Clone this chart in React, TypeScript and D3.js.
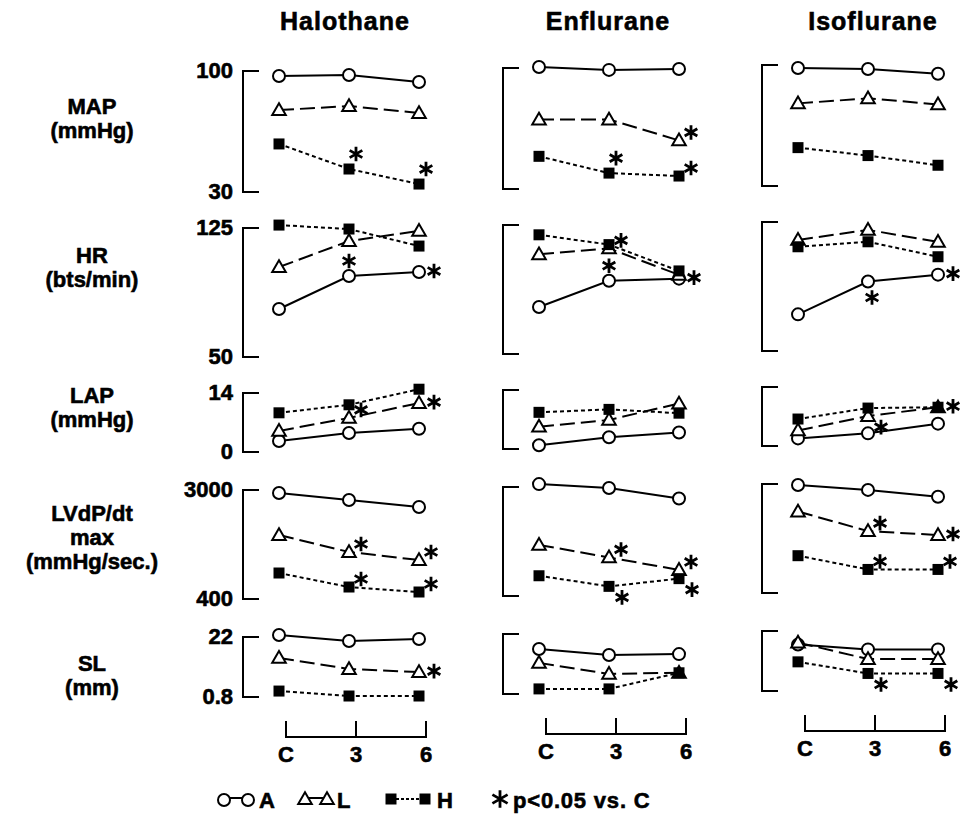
import React from "react";
import * as d3 from "d3";

// ---------- data ----------
const anesthetics = ["Halothane", "Enflurane", "Isoflurane"];
const times = ["C", "3", "6"];
const seriesNames = ["A", "L", "H"];
const variables = ["MAP", "HR", "LAP", "LVdP", "SL"];
const rowLabels = [
  ["MAP", "(mmHg)"],
  ["HR", "(bts/min)"],
  ["LAP", "(mmHg)"],
  ["LVdP/dt", "max", "(mmHg/sec.)"],
  ["SL", "(mm)"],
];
const rowMin = [30, 50, 0, 400, 0.8];
const rowMax = [100, 125, 14, 3000, 22];
const rowMinLabel = ["30", "50", "0", "400", "0.8"];
const rowMaxLabel = ["100", "125", "14", "3000", "22"];

// values: [Halothane, Enflurane, Isoflurane] x [C, 3, 6]
const mapA = [[97.1, 97.7, 93.6], [100.6, 98.9, 99.4], [98.3, 97.7, 94.9]];
const mapL = [[77.4, 79.7, 75.7], [70.2, 70.2, 58.1], [77.8, 80.7, 77.2]];
const mapH = [[57.8, 43.3, 34.6], [48.9, 39.2, 37.5], [52.2, 47.6, 42.0]];

const hrA = [[77.9, 97.1, 99.4], [77.3, 92.6, 93.8], [71.3, 90.4, 94.4]];
const hrL = [[102.3, 117.4, 123.3], [108, 111.4, 96], [114.6, 120.4, 113.5]];
const hrH = [[126.7, 124.4, 114.5], [119.3, 113.6, 98.3], [110.6, 113.5, 104.8]];

const lapA = [[2.6, 4.5, 5.5], [0.9, 2.8, 3.9], [1.8, 3.0, 5.3]];
const lapL = [[5.0, 8.1, 11.6], [5.3, 6.9, 10.8], [3.7, 7.1, 9.2]];
const lapH = [[9.3, 11.2, 14.9], [8.7, 9.4, 8.5], [6.4, 9.0, 9.2]];

const lvA = [[2928, 2761, 2594], [3069, 2977, 2724], [2977, 2859, 2696]];
const lvL = [[1927, 1521, 1330], [1619, 1320, 1021], [2344, 1876, 1782]];
const lvH = [[1020, 686, 567], [883, 630, 814], [1290, 962, 962]];

const slA = [[22.7, 20.6, 21.3], [16.7, 14.6, 14.9], [17.2, 15.5, 15.5]];
const slL = [[14.6, 10.7, 9.6], [11.8, 7.9, 8.3], [17.9, 12.1, 12.1]];
const slH = [[2.9, 1.15, 1.15], [2.6, 2.6, 8.3], [11.1, 7.0, 7.0]];

const rowData = [
  [mapA, mapL, mapH],
  [hrA, hrL, hrH],
  [lapA, lapL, lapH],
  [lvA, lvL, lvH],
  [slA, slL, slH],
];

// significant vs C: [anesthetic, variable, series, time index, asterisk placement]
const significant: [string, string, string, number, string][] = [
  ["Halothane", "MAP", "H", 1, "ru"],
  ["Halothane", "MAP", "H", 2, "ru"],
  ["Halothane", "HR", "A", 1, "u"],
  ["Halothane", "HR", "A", 2, "r"],
  ["Halothane", "LAP", "L", 1, "ur"],
  ["Halothane", "LAP", "L", 2, "r"],
  ["Halothane", "LVdP", "L", 1, "ur"],
  ["Halothane", "LVdP", "L", 2, "ur"],
  ["Halothane", "LVdP", "H", 1, "ur"],
  ["Halothane", "LVdP", "H", 2, "ur"],
  ["Halothane", "SL", "L", 2, "r"],
  ["Enflurane", "MAP", "L", 2, "ur"],
  ["Enflurane", "MAP", "H", 1, "ru"],
  ["Enflurane", "MAP", "H", 2, "ur"],
  ["Enflurane", "HR", "L", 1, "ur"],
  ["Enflurane", "HR", "A", 1, "u"],
  ["Enflurane", "HR", "A", 2, "r"],
  ["Enflurane", "LVdP", "L", 1, "ur"],
  ["Enflurane", "LVdP", "L", 2, "ur"],
  ["Enflurane", "LVdP", "H", 1, "dr"],
  ["Enflurane", "LVdP", "H", 2, "dr"],
  ["Isoflurane", "HR", "A", 1, "d"],
  ["Isoflurane", "HR", "A", 2, "r"],
  ["Isoflurane", "LAP", "L", 1, "dr"],
  ["Isoflurane", "LAP", "L", 2, "r"],
  ["Isoflurane", "LVdP", "L", 1, "ur"],
  ["Isoflurane", "LVdP", "L", 2, "r"],
  ["Isoflurane", "LVdP", "H", 1, "ur"],
  ["Isoflurane", "LVdP", "H", 2, "ur"],
  ["Isoflurane", "SL", "H", 1, "dr"],
  ["Isoflurane", "SL", "H", 2, "dr"],
];

// ---------- layout ----------
const W = 966;
const H = 832;
const FONT = "'Liberation Sans', Arial, Helvetica, sans-serif";
const colBracketX = [243, 503, 762];
const colYOff = [0, -3, -6];
const colTitleX = [345, 608, 873];
const rowTop = [71, 228, 393, 490, 637];
const rowBottom = [192, 357, 452, 599, 697];
const rowLabelY = [106, 255, 395, 513, 663];
const xAxisY = 737;
const placement: Record<string, [number, number]> = {
  u: [0, -15],
  ru: [7, -15],
  ur: [12, -8],
  r: [15, -1],
  dr: [13, 11],
  d: [4, 16],
};
const dashes: Record<string, string | undefined> = { A: undefined, L: "15,6", H: "4,3" };

const asteriskPath = d3.symbol(d3.symbolAsterisk, 150)() as string;
const trianglePath = d3.symbol(d3.symbolTriangle, 80)() as string;
const squarePath = d3.symbol(d3.symbolSquare, 121)() as string;

const heavy = { stroke: "#000", strokeWidth: 0.6 };

function Marker({ s, x, y }: { s: string; x: number; y: number }) {
  if (s === "A")
    return <circle cx={x} cy={y} r={6} fill="#fff" stroke="#000" strokeWidth={2} />;
  if (s === "L")
    return (
      <path d={trianglePath} transform={`translate(${x},${y + 1})`} fill="#fff" stroke="#000" strokeWidth={2} strokeLinejoin="miter" />
    );
  return <path d={squarePath} transform={`translate(${x},${y})`} fill="#000" />;
}

function Asterisk({ x, y, k = 1 }: { x: number; y: number; k?: number }) {
  return (
    <path d={asteriskPath} transform={`translate(${x},${y}) scale(${k})`} fill="none" stroke="#000" strokeWidth={2.8 / k} />
  );
}

export default function App() {
  const panels: React.ReactNode[] = [];

  anesthetics.forEach((an, ci) => {
    const bx = colBracketX[ci];
    const off = colYOff[ci];
    const x = d3.scalePoint<string>().domain(times).range([bx + 36, bx + 176]).padding(0);

    variables.forEach((v, ri) => {
      const y = d3
        .scaleLinear()
        .domain([rowMin[ri], rowMax[ri]])
        .range([rowBottom[ri] + off, rowTop[ri] + off]);
      const y0 = y(rowMax[ri]);
      const y1 = y(rowMin[ri]);
      const key = `${ci}-${ri}`;
      const line = d3
        .line<number>()
        .x((_, i) => x(times[i]) as number)
        .y((d) => y(d));

      panels.push(
        <g key={key}>
          <path
            d={`M${bx + 16},${y0}H${bx}V${y1}H${bx + 16}`}
            fill="none"
            stroke="#000"
            strokeWidth={2}
          />
          {ci === 0 && (
            <g fontFamily={FONT} fontWeight="bold" fontSize={22} textAnchor="end" {...heavy}>
              <text x={bx - 10} y={y0} dy="0.33em">{rowMaxLabel[ri]}</text>
              <text x={bx - 10} y={y1} dy="0.33em">{rowMinLabel[ri]}</text>
            </g>
          )}
          {seriesNames.map((s, si) => {
            const vals = rowData[ri][si][ci];
            return (
              <g key={s}>
                <path
                  d={line(vals) as string}
                  fill="none"
                  stroke="#000"
                  strokeWidth={2}
                  strokeDasharray={dashes[s]}
                />
                {vals.map((val, ti) => (
                  <Marker key={ti} s={s} x={x(times[ti]) as number} y={y(val)} />
                ))}
              </g>
            );
          })}
          {significant
            .filter((d) => d[0] === an && d[1] === v)
            .map((d, k) => {
              const si = seriesNames.indexOf(d[2]);
              const val = rowData[ri][si][ci][d[3]];
              const [dx, dy] = placement[d[4]];
              return <Asterisk key={k} x={(x(times[d[3]]) as number) + dx} y={y(val) + dy} />;
            })}
        </g>
      );
    });

    // x axis bracket
    const ay = xAxisY + off;
    const ax = (t: string) => (x(t) as number) + 7;
    panels.push(
      <g key={`xa-${ci}`}>
        <path
          d={`M${ax("C")},${ay - 16}V${ay}H${ax("6")}V${ay - 16}M${ax("3")},${ay}V${ay - 16}`}
          fill="none"
          stroke="#000"
          strokeWidth={2}
        />
        {times.map((t) => (
          <text
            key={t}
            x={ax(t)}
            y={ay + 25}
            textAnchor="middle"
            fontFamily={FONT}
            fontWeight="bold"
            fontSize={22}
            {...heavy}
          >
            {t}
          </text>
        ))}
        <text
          x={colTitleX[ci]}
          y={30}
          textAnchor="middle"
          fontFamily={FONT}
          fontWeight="bold"
          fontSize={25}
          letterSpacing={1}
          {...heavy}
        >
          {an}
        </text>
      </g>
    );
  });

  // row labels
  const labels = rowLabels.map((lines, ri) => (
    <text
      key={`rl-${ri}`}
      textAnchor="middle"
      fontFamily={FONT}
      fontWeight="bold"
      fontSize={22}
      {...heavy}
    >
      {lines.map((l, i) => (
        <tspan key={i} x={92} y={rowLabelY[ri] + 8 + i * 24}>
          {l}
        </tspan>
      ))}
    </text>
  ));

  // legend
  const ly = 800;
  const legend = (
    <g fontFamily={FONT} fontWeight="bold" fontSize={22}>
      <line x1={224} x2={248} y1={ly - 2} y2={ly - 2} stroke="#000" strokeWidth={2} />
      <Marker s="A" x={224} y={ly} />
      <Marker s="A" x={248} y={ly} />
      <text x={259} y={ly + 8} {...heavy}>A</text>
      <line x1={305} x2={327} y1={ly - 2} y2={ly - 2} stroke="#000" strokeWidth={2} />
      <Marker s="L" x={305} y={ly - 1} />
      <Marker s="L" x={327} y={ly - 1} />
      <text x={337} y={ly + 8} {...heavy}>L</text>
      <line x1={391} x2={425} y1={ly - 1} y2={ly - 1} stroke="#000" strokeWidth={2} strokeDasharray="3,2" />
      <Marker s="H" x={391} y={ly - 1} />
      <Marker s="H" x={425} y={ly - 1} />
      <text x={437} y={ly + 8} {...heavy}>H</text>
      <Asterisk x={500} y={ly - 1} k={1.2} />
      <text x={513} y={ly + 8} fontSize={22} letterSpacing={0.8} {...heavy}>p&lt;0.05 vs. C</text>
    </g>
  );

  return (
    <svg
      width={W}
      height={H}
      viewBox={`0 0 ${W} ${H}`}
      style={{ position: "absolute", left: 0, top: 0, background: "#fff" }}
    >
      <rect width={W} height={H} fill="#fff" />
      {panels}
      {labels}
      {legend}
    </svg>
  );
}
